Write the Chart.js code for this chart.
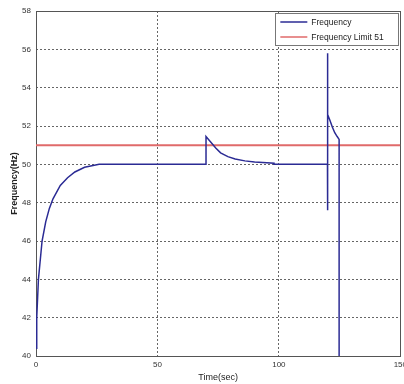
<!DOCTYPE html>
<html>
<head>
<meta charset="utf-8">
<script src="https://cdn.jsdelivr.net/npm/chart.js@4/dist/chart.umd.min.js"></script>
<style>
  html, body { margin: 0; padding: 0; background: #fff; overflow: hidden; }
  #wrap { width: 411px; height: 384px; position: relative; }
</style>
</head>
<body>
<div id="wrap"><canvas id="c"></canvas></div>
<script>
// Time (s) and frequency (Hz)
const timeSec = [0, 0.3, 1, 2.5, 4, 5.5, 7, 10, 13, 16, 20, 26, 70, 70, 72, 74, 76, 79, 82, 86, 90, 95, 98, 98, 120, 120, 120, 120.2, 121, 122, 123, 124, 124.8, 124.8];
const frequencyHz = [40.4, 42, 44, 46, 47, 47.7, 48.2, 48.9, 49.3, 49.6, 49.85, 50, 50, 51.45, 51.15, 50.85, 50.6, 50.4, 50.28, 50.18, 50.12, 50.08, 50.06, 50, 50, 47.6, 55.8, 52.6, 52.3, 51.95, 51.65, 51.45, 51.3, 40];
const limitTime = [0, 150];
const limitHz = [51, 51];
const seriesLabels = ["Frequency", "Frequency Limit 51"];
const xTicks = [0, 50, 100, 150];
const yTicks = [40, 42, 44, 46, 48, 50, 52, 54, 56, 58];

const freqPts = timeSec.map((t, i) => ({ x: t, y: frequencyHz[i] }));
const limitPts = limitTime.map((t, i) => ({ x: t, y: limitHz[i] }));

const framePlugin = {
  id: 'frame',
  beforeDatasetsDraw(chart) {
    const { ctx, chartArea: a } = chart;
    ctx.save();
    ctx.strokeStyle = '#555';
    ctx.lineWidth = 1;
    ctx.strokeRect(Math.round(a.left) + 0.5, Math.round(a.top) + 0.5, Math.round(a.right - a.left), Math.round(a.bottom - a.top));
    ctx.restore();
  }
};

const legendBoxPlugin = {
  id: 'legendBox',
  afterDraw(chart) {
    const { ctx, chartArea: a } = chart;
    const w = 123, h = 32;
    const x0 = a.right - 2 - w, y0 = a.top + 2;
    ctx.save();
    ctx.fillStyle = '#fff';
    ctx.fillRect(x0, y0, w, h);
    ctx.strokeStyle = '#777';
    ctx.lineWidth = 1;
    ctx.strokeRect(Math.round(x0) + 0.5, Math.round(y0) + 0.5, w, h);
    ctx.font = '8.5px "Liberation Sans", Arial, sans-serif';
    ctx.textBaseline = 'middle';
    chart.data.datasets.forEach((ds, i) => {
      const y = y0 + 9 + i * 15;
      ctx.strokeStyle = ds.borderColor;
      ctx.lineWidth = 1.5;
      ctx.beginPath();
      ctx.moveTo(x0 + 5, y);
      ctx.lineTo(x0 + 32, y);
      ctx.stroke();
      ctx.fillStyle = '#1a1a1a';
      ctx.fillText(ds.label, x0 + 36, y + 0.5);
    });
    ctx.restore();
  }
};

new Chart(document.getElementById('c'), {
  type: 'scatter',
  data: {
    datasets: [
      { label: seriesLabels[0], data: freqPts, showLine: true, borderColor: '#2b2b94', borderWidth: 1.5, pointRadius: 0, tension: 0, order: 1 },
      { label: seriesLabels[1], data: limitPts, showLine: true, borderColor: '#e06a6a', borderWidth: 2, pointRadius: 0, tension: 0, order: 2 }
    ]
  },
  options: {
    responsive: true,
    maintainAspectRatio: false,
    animation: false,
    layout: { padding: { top: 11, left: 0, right: 0, bottom: 0 } },
    plugins: { legend: { display: false }, tooltip: { enabled: false } },
    scales: {
      x: {
        type: 'linear', min: 0, max: 150,
        afterBuildTicks: s => { s.ticks = xTicks.map(v => ({ value: v })); },
        afterFit: s => { s.height = 28; },
        grid: { color: '#666', lineWidth: 1, drawTicks: false },
        border: { display: false, dash: [2, 2] },
        ticks: { padding: 4, color: '#333', font: { family: '"Liberation Sans", Arial, sans-serif', size: 8 }, maxRotation: 0 },
        title: { display: true, text: 'Time(sec)', color: '#222', font: { family: '"Liberation Sans", Arial, sans-serif', size: 9 }, padding: { top: 0, bottom: 1 } }
      },
      y: {
        type: 'linear', min: 40, max: 58,
        afterBuildTicks: s => { s.ticks = yTicks.map(v => ({ value: v })); },
        afterFit: s => { s.width = 36; },
        grid: { color: '#666', lineWidth: 1, drawTicks: false },
        border: { display: false, dash: [2, 2] },
        ticks: { padding: 5, color: '#333', font: { family: '"Liberation Sans", Arial, sans-serif', size: 8 } },
        title: { display: true, text: 'Frequency(Hz)', color: '#222', font: { family: '"Liberation Sans", Arial, sans-serif', size: 9, weight: 'bold' }, padding: { top: 9, bottom: 0 } }
      }
    }
  },
  plugins: [framePlugin, legendBoxPlugin]
});
</script>
</body>
</html>
